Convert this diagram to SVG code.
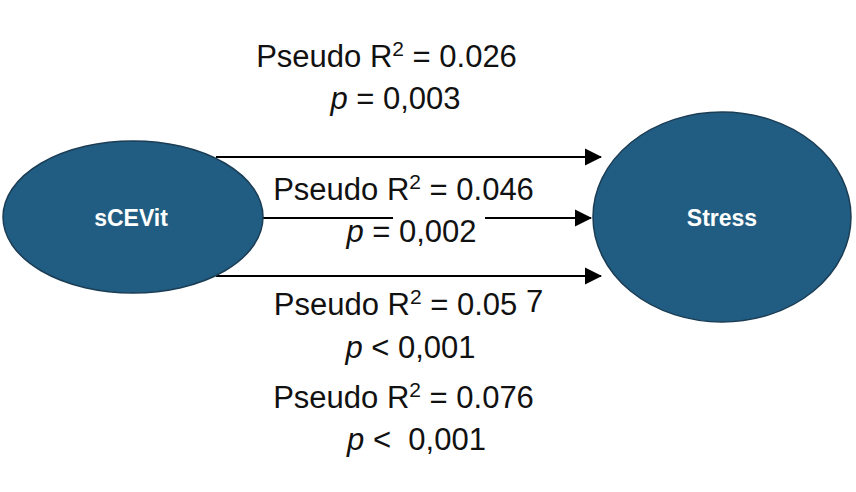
<svg xmlns="http://www.w3.org/2000/svg" width="856" height="492" viewBox="0 0 856 492">
<defs>
<style>
.node{fill:#215d82;stroke:#1b3d55;stroke-width:1.5}
.nl{font-family:"Liberation Sans",Arial,sans-serif;font-weight:bold;font-size:23px;fill:#ffffff;text-anchor:middle}
.lbl{font-family:"Liberation Sans",Arial,sans-serif;font-size:31px;fill:#111111;text-anchor:middle}
.sup{font-size:21px}
.it{font-style:italic}
.edge{stroke:#000000;stroke-width:2.2;fill:none}
</style>
<marker id="ah" markerWidth="8" markerHeight="8" refX="7.5" refY="4" orient="auto" markerUnits="strokeWidth">
<path d="M0,0 L8,4 L0,8 Z" fill="#000000"/>
</marker>
</defs>
<rect width="856" height="492" fill="#ffffff"/>
<g id="connectors">
<line class="edge" x1="216" y1="157" x2="601" y2="157" marker-end="url(#ah)"/>
<line class="edge" x1="262" y1="218" x2="393" y2="218"/>
<line class="edge" x1="485" y1="218" x2="591" y2="218" marker-end="url(#ah)"/>
<line class="edge" x1="216" y1="276" x2="601" y2="276" marker-end="url(#ah)"/>
</g>
<g id="node-scevit">
<ellipse class="node" cx="133" cy="217" rx="130" ry="76"/>
<text class="nl" x="131" y="226">sCEVit</text>
</g>
<g id="node-stress">
<ellipse class="node" cx="722" cy="217" rx="129" ry="105"/>
<text class="nl" x="722" y="226">Stress</text>
</g>
<g id="labels">
<text class="lbl" x="386.5" y="67">Pseudo R<tspan class="sup" dy="-11">2</tspan><tspan dy="11"> = 0.026</tspan></text>
<text class="lbl" x="395.5" y="109"><tspan class="it">p</tspan> = 0,003</text>
<text class="lbl" x="403.5" y="200">Pseudo R<tspan class="sup" dy="-11">2</tspan><tspan dy="11"> = 0.046</tspan></text>
<text class="lbl" x="411.5" y="242"><tspan class="it">p</tspan> = 0,002</text>
<text class="lbl" x="408.5" y="315">Pseudo R<tspan class="sup" dy="-11">2</tspan><tspan dy="11"> = 0.05 </tspan><tspan dy="-3">7</tspan></text>
<text class="lbl" x="410.5" y="358"><tspan class="it">p</tspan> &lt; 0,001</text>
<text class="lbl" x="403.5" y="408">Pseudo R<tspan class="sup" dy="-11">2</tspan><tspan dy="11"> = 0.076</tspan></text>
<text class="lbl" x="416.5" y="450"><tspan class="it">p</tspan> &lt;&#160; 0,001</text>
</g>
</svg>
